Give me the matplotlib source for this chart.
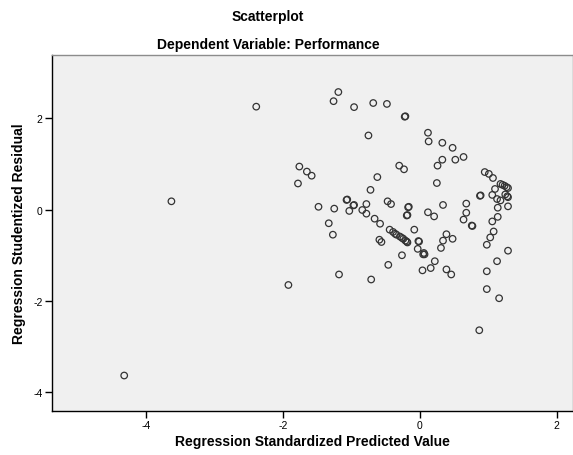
"""SPSS-style residual scatterplot: studentized residual vs standardized predicted value."""

import matplotlib
matplotlib.use("Agg")
import matplotlib.pyplot as plt

# standardized predicted value / studentized residual
PRED = [
    -4.32, -3.63, -2.39, -1.92, -1.19, -1.26, -0.96, -0.68, -0.48, -0.22,
    -0.21, -0.75, 0.12, 0.13, 0.33, 0.48, 0.64, 0.52, 0.33, 0.26,
    -0.30, -0.23, -0.62, -1.76, -1.65, -1.58, -1.78, -0.72, 0.25, 0.95,
    1.01, 1.07, 1.18, 1.21, 1.24, 1.27, 1.29, 1.25, 1.29, 1.28,
    1.10, 1.06, 0.88, 0.89, 1.13, 1.18, 1.29, 1.14, 1.14, 1.06,
    1.08, 1.03, 0.98, 1.29, 0.68, 0.68, 0.64, 0.76, 0.77, 0.34,
    0.12, 0.21, -0.08, 0.39, 0.34, 0.48, 0.31, -0.02, -0.01, -0.03,
    0.06, -0.17, -0.16, -0.19, -0.18, -0.47, -0.42, -1.07, -1.06, -0.97,
    -0.96, -0.78, -1.03, -0.84, -0.78, -1.25, -1.48, -1.33, -1.27, -0.66,
    -0.58, -0.44, -0.39, -0.34, -0.29, -0.24, -0.21, -0.18, -0.36, -0.26,
    -0.19, -0.59, -0.56, -0.26, -0.46, -1.18, -0.71, 0.05, 0.07, 0.22,
    0.16, 0.04, 0.39, 0.46, 1.13, 0.98, 0.98, 1.16, 0.87,
]
RESID = [
    -3.63, 0.18, 2.25, -1.65, 2.57, 2.37, 2.24, 2.33, 2.31, 2.03,
    2.04, 1.62, 1.68, 1.49, 1.46, 1.35, 1.15, 1.09, 1.09, 0.96,
    0.96, 0.88, 0.71, 0.94, 0.83, 0.74, 0.57, 0.43, 0.58, 0.82,
    0.78, 0.69, 0.56, 0.54, 0.52, 0.49, 0.47, 0.33, 0.27, 0.29,
    0.45, 0.32, 0.30, 0.31, 0.23, 0.20, 0.07, 0.04, -0.16, -0.26,
    -0.48, -0.61, -0.77, -0.90, 0.13, -0.07, -0.22, -0.35, -0.36, 0.10,
    -0.06, -0.15, -0.44, -0.54, -0.68, -0.64, -0.84, -0.69, -0.70, -0.86,
    -0.95, 0.05, 0.06, -0.13, -0.12, 0.18, 0.12, 0.21, 0.22, 0.09,
    0.10, 0.12, -0.03, -0.01, -0.09, 0.02, 0.06, -0.30, -0.55, -0.20,
    -0.31, -0.44, -0.49, -0.55, -0.59, -0.64, -0.68, -0.72, -0.53, -0.62,
    -0.70, -0.66, -0.71, -1.00, -1.21, -1.42, -1.53, -0.98, -0.98, -1.13,
    -1.28, -1.33, -1.31, -1.42, -1.13, -1.35, -1.74, -1.94, -2.64,
]

X_TICKS = [-4, -2, 0, 2]
Y_TICKS = [-4, -2, 0, 2]

plt.rcParams.update(
    {
        "font.family": ["Liberation Sans", "DejaVu Sans"],
        "axes.unicode_minus": False,
    }
)

fig = plt.figure(figsize=(5.73, 4.56), dpi=100)
ax = fig.add_axes([0.0902, 0.0971, 0.9098, 0.7801])
ax.set_facecolor("#f0f0f0")

ax.scatter(PRED, RESID, s=22, facecolors="none", edgecolors="#333333", linewidths=0.9)

ax.set_xlim(-5.38, 2.24)
ax.set_ylim(-4.40, 3.38)
ax.set_xticks(X_TICKS, [str(t) for t in X_TICKS])
ax.set_yticks(Y_TICKS, [str(t) for t in Y_TICKS])
ax.tick_params(direction="out", length=5, width=1, labelsize=7.5, colors="black", pad=1.5)

for side in ("left", "bottom"):
    ax.spines[side].set_color("black")
    ax.spines[side].set_linewidth(1.0)
for side in ("top", "right"):
    ax.spines[side].set_color("#8c8c8c")
    ax.spines[side].set_linewidth(1.0)

ax.set_xlabel("Regression Standardized Predicted Value", fontsize=10, fontweight="bold", labelpad=3)
ax.set_ylabel("Regression Studentized Residual", fontsize=10, fontweight="bold", labelpad=5)

fig.text(0.468, 0.962, "Scatterplot", ha="center", va="center", fontsize=10, fontweight="bold")
fig.text(0.468, 0.901, "Dependent Variable: Performance", ha="center", va="center",
         fontsize=10, fontweight="bold")

fig.savefig("out.png", dpi=100)
plt.close(fig)
